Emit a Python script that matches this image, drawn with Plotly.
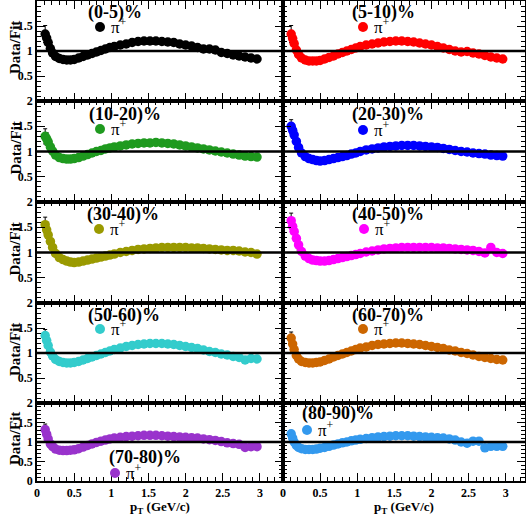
import plotly.graph_objects as go
from plotly.subplots import make_subplots

pt = [0.11, 0.13, 0.15, 0.18, 0.21, 0.25, 0.30, 0.35, 0.40, 0.45,
      0.50, 0.56, 0.62, 0.68, 0.74, 0.80, 0.86, 0.92, 0.98,
      1.04, 1.12, 1.20, 1.28, 1.36, 1.44, 1.52, 1.60, 1.68, 1.76,
      1.84, 1.92, 2.00, 2.08, 2.16, 2.24, 2.32, 2.40, 2.48, 2.56,
      2.64, 2.72, 2.80, 2.88, 2.96]

centralities = ["(0-5)%", "(5-10)%", "(10-20)%", "(20-30)%", "(30-40)%",
                "(40-50)%", "(50-60)%", "(60-70)%", "(70-80)%", "(80-90)%"]

r_0_5 = [1.34, 1.26, 1.17, 1.05, 0.96, 0.89, 0.85, 0.83, 0.82, 0.82,
         0.83, 0.86, 0.89, 0.92, 0.95, 0.98, 1.01, 1.04, 1.07,
         1.09, 1.12, 1.14, 1.17, 1.19, 1.20, 1.20, 1.20, 1.19, 1.18,
         1.17, 1.14, 1.12, 1.10, 1.07, 1.04, 1.04, 1.02, 0.97, 0.95,
         0.92, 0.90, 0.88, 0.86, 0.84]
r_5_10 = [1.34, 1.25, 1.15, 1.02, 0.93, 0.86, 0.82, 0.80, 0.80, 0.80,
          0.81, 0.84, 0.87, 0.90, 0.94, 0.97, 1.00, 1.03, 1.06,
          1.09, 1.12, 1.14, 1.16, 1.18, 1.19, 1.20, 1.20, 1.19, 1.18,
          1.16, 1.14, 1.12, 1.09, 1.06, 1.03, 1.00, 0.98, 0.99, 0.96,
          0.94, 0.91, 0.88, 0.86, 0.84]
r_10_20 = [1.30, 1.25, 1.19, 1.09, 1.01, 0.93, 0.88, 0.86, 0.85, 0.85,
           0.86, 0.88, 0.91, 0.94, 0.97, 1.00, 1.02, 1.05, 1.07,
           1.09, 1.11, 1.13, 1.15, 1.16, 1.17, 1.17, 1.18, 1.17, 1.16,
           1.15, 1.13, 1.11, 1.09, 1.07, 1.05, 1.03, 1.01, 0.99, 0.97,
           0.95, 0.93, 0.91, 0.90, 0.89]
r_20_30 = [1.50, 1.42, 1.33, 1.20, 1.08, 0.97, 0.90, 0.86, 0.84, 0.82,
           0.81, 0.82, 0.84, 0.86, 0.88, 0.90, 0.92, 0.95, 0.97,
           1.00, 1.03, 1.05, 1.07, 1.09, 1.10, 1.11, 1.12, 1.12, 1.12,
           1.11, 1.10, 1.09, 1.08, 1.06, 1.04, 1.02, 1.00, 0.99, 0.97,
           0.96, 0.95, 0.93, 0.92, 0.91]
r_30_40 = [1.55, 1.45, 1.35, 1.22, 1.10, 0.98, 0.90, 0.86, 0.83, 0.81,
           0.80, 0.81, 0.83, 0.85, 0.87, 0.89, 0.91, 0.93, 0.95,
           0.97, 1.00, 1.02, 1.04, 1.06, 1.07, 1.08, 1.09, 1.10, 1.10,
           1.10, 1.10, 1.10, 1.09, 1.09, 1.08, 1.07, 1.06, 1.05, 1.04,
           1.04, 1.03, 1.01, 1.00, 0.97]
r_40_50 = [1.63, 1.52, 1.42, 1.28, 1.15, 1.02, 0.93, 0.88, 0.85, 0.84,
           0.83, 0.83, 0.84, 0.86, 0.88, 0.90, 0.92, 0.94, 0.96,
           0.98, 1.01, 1.03, 1.05, 1.07, 1.08, 1.09, 1.10, 1.10, 1.10,
           1.10, 1.10, 1.10, 1.09, 1.09, 1.08, 1.07, 1.06, 1.05, 1.04,
           1.02, 0.99, 1.10, 1.00, 0.98]
r_50_60 = [1.35, 1.25, 1.15, 1.02, 0.94, 0.87, 0.83, 0.81, 0.80, 0.80,
           0.81, 0.83, 0.86, 0.89, 0.92, 0.95, 0.98, 1.01, 1.04,
           1.07, 1.10, 1.13, 1.15, 1.17, 1.18, 1.19, 1.19, 1.19, 1.18,
           1.17, 1.15, 1.13, 1.11, 1.09, 1.06, 1.03, 1.01, 0.98, 0.96,
           0.93, 0.91, 0.86, 0.89, 0.88]
r_60_70 = [1.30, 1.18, 1.07, 0.95, 0.88, 0.83, 0.81, 0.80, 0.80, 0.81,
           0.82, 0.85, 0.88, 0.92, 0.95, 0.98, 1.01, 1.04, 1.07,
           1.10, 1.12, 1.15, 1.17, 1.18, 1.19, 1.20, 1.20, 1.19, 1.18,
           1.17, 1.15, 1.13, 1.11, 1.09, 1.06, 1.04, 1.01, 0.99, 0.96,
           0.93, 0.91, 0.89, 0.87, 0.86]
r_70_80 = [1.32, 1.20, 1.08, 0.95, 0.88, 0.82, 0.79, 0.78, 0.78, 0.79,
           0.80, 0.83, 0.87, 0.91, 0.95, 0.99, 1.02, 1.05, 1.08,
           1.10, 1.12, 1.14, 1.15, 1.16, 1.17, 1.17, 1.17, 1.16, 1.15,
           1.14, 1.13, 1.12, 1.11, 1.10, 1.08, 1.06, 1.04, 1.01, 0.98,
           0.96, 0.94, 0.86, 0.88, 0.88]
r_80_90 = [1.21, 1.10, 1.00, 0.91, 0.86, 0.83, 0.81, 0.81, 0.81, 0.82,
           0.84, 0.86, 0.89, 0.92, 0.95, 0.98, 1.00, 1.03, 1.05,
           1.07, 1.09, 1.11, 1.13, 1.14, 1.15, 1.16, 1.16, 1.16, 1.15,
           1.14, 1.13, 1.12, 1.11, 1.10, 1.08, 1.05, 1.00, 0.97, 1.02,
           1.02, 0.85, 0.89, 0.89, 0.89]

# statistical errors (only visible where larger than the marker)
e_0_5 = [0.17, 0.10, 0.09, 0.08, 0.05, 0.03, 0.02, 0.02, 0.02, 0.02,
         0.02, 0.02, 0.02, 0.02, 0.02, 0.02, 0.02, 0.02, 0.02,
         0.02, 0.02, 0.02, 0.02, 0.02, 0.02, 0.02, 0.02, 0.02, 0.02,
         0.02, 0.02, 0.02, 0.02, 0.02, 0.02, 0.02, 0.02, 0.02, 0.02,
         0.02, 0.02, 0.02, 0.02, 0.02]
e_5_10 = [0.17, 0.12, 0.11, 0.10, 0.07, 0.03, 0.02, 0.02, 0.02, 0.02,
          0.02, 0.02, 0.02, 0.02, 0.02, 0.02, 0.02, 0.02, 0.02,
          0.02, 0.02, 0.02, 0.02, 0.02, 0.02, 0.02, 0.02, 0.02, 0.02,
          0.02, 0.02, 0.02, 0.02, 0.02, 0.02, 0.02, 0.02, 0.02, 0.02,
          0.02, 0.02, 0.02, 0.02, 0.02]
e_10_20 = [0.15, 0.12, 0.11, 0.10, 0.08, 0.03, 0.02, 0.02, 0.02, 0.02,
           0.02, 0.02, 0.02, 0.02, 0.02, 0.02, 0.02, 0.02, 0.02,
           0.02, 0.02, 0.02, 0.02, 0.02, 0.02, 0.02, 0.02, 0.02, 0.02,
           0.02, 0.02, 0.02, 0.02, 0.02, 0.02, 0.02, 0.02, 0.02, 0.02,
           0.02, 0.02, 0.02, 0.02, 0.02]
e_20_30 = [0.13, 0.12, 0.12, 0.11, 0.09, 0.04, 0.02, 0.02, 0.02, 0.02,
           0.02, 0.02, 0.02, 0.02, 0.02, 0.02, 0.02, 0.02, 0.02,
           0.02, 0.02, 0.02, 0.02, 0.02, 0.02, 0.02, 0.02, 0.02, 0.02,
           0.02, 0.02, 0.02, 0.02, 0.02, 0.02, 0.02, 0.02, 0.02, 0.02,
           0.02, 0.02, 0.03, 0.03, 0.03]
e_30_40 = [0.15, 0.13, 0.12, 0.11, 0.10, 0.04, 0.02, 0.02, 0.02, 0.02,
           0.02, 0.02, 0.02, 0.02, 0.02, 0.02, 0.02, 0.02, 0.02,
           0.02, 0.02, 0.02, 0.02, 0.02, 0.02, 0.02, 0.02, 0.02, 0.02,
           0.02, 0.02, 0.02, 0.02, 0.02, 0.02, 0.02, 0.02, 0.03, 0.03,
           0.03, 0.04, 0.05, 0.06, 0.05]
e_40_50 = [0.15, 0.13, 0.12, 0.11, 0.10, 0.04, 0.02, 0.02, 0.02, 0.02,
           0.02, 0.02, 0.02, 0.02, 0.02, 0.02, 0.02, 0.02, 0.02,
           0.02, 0.02, 0.02, 0.02, 0.02, 0.02, 0.02, 0.02, 0.02, 0.02,
           0.02, 0.02, 0.02, 0.02, 0.02, 0.02, 0.02, 0.02, 0.03, 0.03,
           0.04, 0.05, 0.07, 0.06, 0.05]
e_50_60 = [0.12, 0.10, 0.09, 0.08, 0.06, 0.03, 0.02, 0.02, 0.02, 0.02,
           0.02, 0.02, 0.02, 0.02, 0.02, 0.02, 0.02, 0.02, 0.02,
           0.02, 0.02, 0.02, 0.02, 0.02, 0.02, 0.02, 0.02, 0.02, 0.02,
           0.02, 0.02, 0.02, 0.02, 0.02, 0.02, 0.02, 0.02, 0.03, 0.03,
           0.03, 0.04, 0.05, 0.05, 0.05]
e_60_70 = [0.12, 0.10, 0.09, 0.07, 0.05, 0.03, 0.02, 0.02, 0.02, 0.02,
           0.02, 0.02, 0.02, 0.02, 0.02, 0.02, 0.02, 0.02, 0.02,
           0.02, 0.02, 0.02, 0.02, 0.02, 0.02, 0.02, 0.02, 0.02, 0.02,
           0.02, 0.02, 0.02, 0.02, 0.02, 0.02, 0.02, 0.02, 0.03, 0.03,
           0.03, 0.03, 0.04, 0.04, 0.04]
e_70_80 = [0.14, 0.10, 0.08, 0.06, 0.04, 0.03, 0.02, 0.02, 0.02, 0.02,
           0.02, 0.02, 0.02, 0.02, 0.02, 0.02, 0.02, 0.02, 0.02,
           0.02, 0.02, 0.02, 0.02, 0.02, 0.02, 0.02, 0.02, 0.02, 0.02,
           0.02, 0.02, 0.02, 0.02, 0.02, 0.02, 0.02, 0.02, 0.03, 0.03,
           0.03, 0.04, 0.05, 0.05, 0.05]
e_80_90 = [0.06, 0.05, 0.04, 0.03, 0.03, 0.02, 0.02, 0.02, 0.02, 0.02,
           0.02, 0.02, 0.02, 0.02, 0.02, 0.02, 0.02, 0.02, 0.02,
           0.02, 0.02, 0.02, 0.02, 0.02, 0.02, 0.02, 0.02, 0.02, 0.02,
           0.02, 0.02, 0.02, 0.02, 0.02, 0.02, 0.02, 0.02, 0.03, 0.03,
           0.03, 0.04, 0.04, 0.04, 0.04]

ratios = [r_0_5, r_5_10, r_10_20, r_20_30, r_30_40,
          r_40_50, r_50_60, r_60_70, r_70_80, r_80_90]
errors = [e_0_5, e_5_10, e_10_20, e_20_30, e_30_40,
          e_40_50, e_50_60, e_60_70, e_70_80, e_80_90]
colors = ["#000000", "#ff0000", "#1f9a1f", "#0000ff", "#9a9a00",
          "#ff00ff", "#33cccc", "#cc6600", "#9933cc", "#3399ee"]

x_ticks = [0, 0.5, 1, 1.5, 2, 2.5, 3]
x_tick_text = ["0", "0.5", "1", "1.5", "2", "2.5", "3"]
y_ticks = [0, 0.5, 1, 1.5, 2]
y_tick_text_top = ["", "0.5", "1", "1.5", "2"]
y_tick_text_bottom = ["0", "0.5", "1", "1.5", "2"]

# ---------------- layout geometry (pixels) ----------------
W, H = 526, 522
XL, XM, XR = 37, 283, 525
rows_px = [(1, 101), (101, 202), (202, 303), (303, 403), (403, 481)]
x_range_left = [0, 3.31]
x_range_right = [0, 3.26]

# text placement (pixels): label centre, marker centre
label_pos = [(115, 13), (383, 13), (125, 115), (388, 115), (123, 215),
             (388, 215), (124, 315), (388, 315), (145, 457), (338, 413)]
marker_pos = [(100, 27), (363, 27), (100, 129), (363, 130), (99, 229),
              (364, 229), (100, 329), (363, 329), (115, 473), (307, 430)]

FONT = "Liberation Serif"

fig = make_subplots(rows=5, cols=2, horizontal_spacing=0, vertical_spacing=0)

shapes = []
annotations = []
for i in range(10):
    r = i // 2 + 1
    c = i % 2 + 1
    fig.add_trace(go.Scatter(
        x=pt, y=ratios[i], mode="markers",
        marker=dict(color=colors[i], size=9.5, line=dict(width=0)),
        error_y=dict(type="data", array=errors[i], color="black",
                     thickness=1, width=2),
        showlegend=False, cliponaxis=True, hoverinfo="skip"), row=r, col=c)

    top, bot = rows_px[r - 1]
    xd = [XL / W, XM / W] if c == 1 else [XM / W, XR / W]
    yd = [1 - bot / H, 1 - top / H]
    fig.update_xaxes(
        domain=xd, range=x_range_left if c == 1 else x_range_right,
        automargin=False,
        tickmode="array", tickvals=x_ticks, ticktext=x_tick_text,
        showticklabels=(r == 5), ticks="inside", ticklen=8, tickwidth=1,
        tickcolor="black", mirror="allticks", showline=True, linewidth=1.5,
        linecolor="black", showgrid=False, zeroline=False,
        minor=dict(tickmode="linear", tick0=0, dtick=0.1, ticks="inside",
                   ticklen=4, tickwidth=1, tickcolor="black"),
        tickfont=dict(family=FONT, size=12, color="black", weight="bold"),
        row=r, col=c)
    fig.update_yaxes(
        domain=yd, range=[0, 2], automargin=False,
        tickmode="array", tickvals=y_ticks,
        ticktext=y_tick_text_bottom if r == 5 else y_tick_text_top,
        showticklabels=(c == 1), ticks="inside", ticklen=8, tickwidth=1,
        tickcolor="black", mirror="allticks", showline=True, linewidth=1.5,
        linecolor="black", showgrid=False, zeroline=False,
        minor=dict(tickmode="linear", tick0=0, dtick=0.1, ticks="inside",
                   ticklen=4, tickwidth=1, tickcolor="black"),
        tickfont=dict(family=FONT, size=12, color="black", weight="bold"),
        row=r, col=c)

    n = "" if i == 0 else str(i + 1)
    shapes.append(dict(type="line", xref=f"x{n} domain", yref=f"y{n}",
                       x0=0, x1=1, y0=1, y1=1,
                       line=dict(color="black", width=2.5)))

    lx, ly = label_pos[i]
    annotations.append(dict(x=lx / W, y=1 - ly / H, xref="paper", yref="paper",
                            text=centralities[i], showarrow=False,
                            xanchor="center", yanchor="middle",
                            font=dict(family=FONT, size=18, color="black",
                                      weight="bold")))
    mx, my = marker_pos[i]
    shapes.append(dict(type="circle", xref="paper", yref="paper",
                       xsizemode="pixel", ysizemode="pixel",
                       xanchor=mx / W, yanchor=1 - my / H,
                       x0=-5, x1=5, y0=-5, y1=5,
                       fillcolor=colors[i], line=dict(width=0)))
    annotations.append(dict(x=(mx + 9) / W, y=1 - (my - 1) / H,
                            xref="paper", yref="paper",
                            text="π<sup>+</sup>", showarrow=False,
                            xanchor="left", yanchor="middle",
                            font=dict(family=FONT, size=17, color="black")))

    if c == 1:
        annotations.append(dict(x=15 / W, y=1 - ((top + bot) / 2 - 3) / H,
                                xref="paper", yref="paper", text="Data/Fit",
                                textangle=-90, showarrow=False,
                                xanchor="center", yanchor="middle",
                                font=dict(family=FONT, size=15, color="black",
                                          weight="bold")))

for cx in [(XL + XM) / 2, (XM + XR) / 2]:
    annotations.append(dict(x=cx / W, y=1 - 507 / H, xref="paper", yref="paper",
                            text="p<sub>T</sub> (GeV/c)", showarrow=False,
                            xanchor="center", yanchor="middle",
                            font=dict(family=FONT, size=13, color="black",
                                      weight="bold")))

fig.update_layout(
    width=W, height=H, autosize=False,
    margin=dict(l=0, r=0, t=0, b=0, pad=0),
    paper_bgcolor="white", plot_bgcolor="white",
    shapes=shapes, annotations=annotations, showlegend=False,
    hovermode=False,
)

fig.write_html("out.html", config={"displayModeBar": False},
               post_script="document.body.style.margin='0px';"
                           "document.body.style.overflow='hidden';")
